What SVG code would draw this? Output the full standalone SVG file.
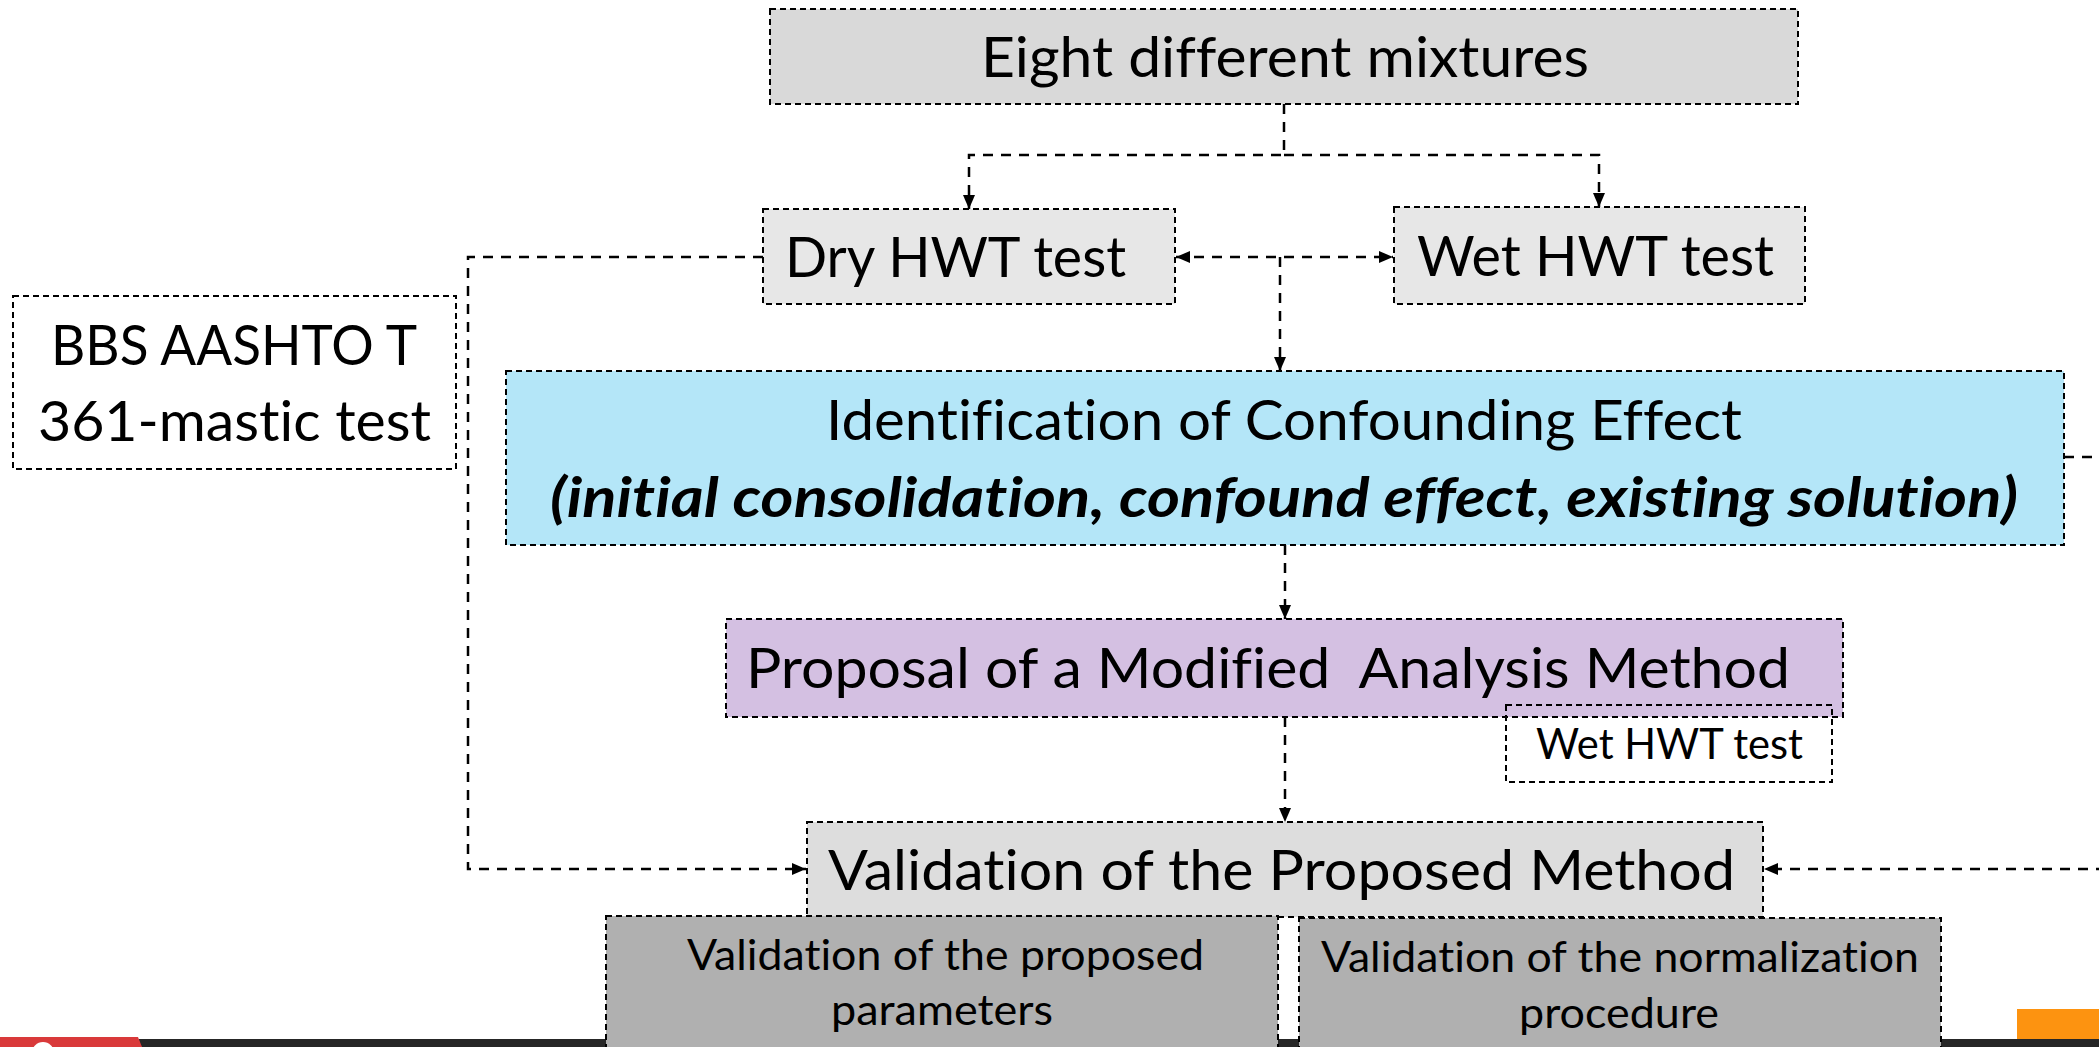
<svg xmlns="http://www.w3.org/2000/svg" width="2099" height="1047" viewBox="0 0 2099 1047">
<style>
.box{stroke:#000;stroke-width:2;stroke-dasharray:6 4}
.t{font-family:Lato,"Open Sans","Liberation Sans",sans-serif;fill:#000;font-variant-ligatures:none;font-feature-settings:"liga" 0,"clig" 0,"dlig" 0}
.big{font-size:56px}
.sm{font-size:42px}
.bi{font-weight:bold;font-style:italic}
.con{fill:none;stroke:#000;stroke-width:2.5;stroke-dasharray:10 8}
</style>
<defs>
<marker id="arr" markerUnits="userSpaceOnUse" markerWidth="16" markerHeight="14" refX="14" refY="6" orient="auto-start-reverse">
<path d="M0,0 L14,6 L0,12 z" fill="#000"/>
</marker>
</defs>
<rect x="0" y="0" width="2099" height="1047" fill="#fff"/>
<g id="footer">
<rect x="139" y="1039" width="1960" height="8" fill="#262626"/>
<polygon points="0,1037 138,1037 142,1047 0,1047" fill="#d9393a"/>
<circle cx="43" cy="1053" r="11" fill="#fff"/>
<rect x="2017" y="1009" width="82" height="30" fill="#fd9310"/>
</g>
<g id="eight">
<rect class="box" x="770" y="9" width="1028" height="95" fill="#d9d9d9"/>
<text class="t big" x="981" y="77" textLength="608" lengthAdjust="spacingAndGlyphs">Eight different mixtures</text>
</g>
<g id="dry">
<rect class="box" x="763" y="209" width="412" height="95" fill="#e7e7e7"/>
<text class="t big" x="785" y="277" textLength="341" lengthAdjust="spacingAndGlyphs">Dry HWT test</text>
</g>
<g id="wet">
<rect class="box" x="1394" y="207" width="411" height="97" fill="#e7e7e7"/>
<text class="t big" x="1417" y="276" textLength="357" lengthAdjust="spacingAndGlyphs">Wet HWT test</text>
</g>
<g id="bbs">
<rect class="box" x="13" y="296" width="443" height="173" fill="#fff"/>
<text class="t big" x="51" y="365" textLength="366" lengthAdjust="spacingAndGlyphs">BBS AASHTO T</text>
<text class="t big" x="38" y="441" textLength="393" lengthAdjust="spacingAndGlyphs">361-mastic test</text>
</g>
<g id="identification">
<rect class="box" x="506" y="371" width="1558" height="174" fill="#b4e6f8"/>
<text class="t big" x="826" y="440" textLength="916" lengthAdjust="spacingAndGlyphs">Identification of Confounding Effect</text>
<text class="t big bi" x="550" y="517" textLength="1468" lengthAdjust="spacingAndGlyphs">(initial consolidation, confound effect, existing solution)</text>
</g>
<g id="proposal">
<rect class="box" x="726" y="619" width="1117" height="98" fill="#d4c0e2"/>
<text class="t big" x="746" y="688" textLength="1044" lengthAdjust="spacingAndGlyphs" xml:space="preserve">Proposal of a Modified  Analysis Method</text>
</g>
<g id="wet-small">
<rect class="box" x="1506" y="705" width="326" height="77" fill="none"/>
<text class="t sm" x="1536" y="759" textLength="267" lengthAdjust="spacingAndGlyphs">Wet HWT test</text>
</g>
<g id="validation">
<rect class="box" x="807" y="822" width="956" height="95" fill="#dddddd"/>
<text class="t big" x="828" y="890" textLength="907" lengthAdjust="spacingAndGlyphs">Validation of the Proposed Method</text>
</g>
<g id="val-params">
<rect class="box" x="606" y="916" width="672" height="140" fill="#b0b0b0"/>
<text class="t sm" x="687" y="970" textLength="517" lengthAdjust="spacingAndGlyphs">Validation of the proposed</text>
<text class="t sm" x="831" y="1025" textLength="222" lengthAdjust="spacingAndGlyphs">parameters</text>
</g>
<g id="val-norm">
<rect class="box" x="1299" y="918" width="642" height="140" fill="#b0b0b0"/>
<text class="t sm" x="1321" y="972" textLength="598" lengthAdjust="spacingAndGlyphs">Validation of the normalization</text>
<text class="t sm" x="1519" y="1028" textLength="200" lengthAdjust="spacingAndGlyphs">procedure</text>
</g>
<g id="connectors">
<path class="con" d="M1284,104 V155 H969 V209" marker-end="url(#arr)"/>
<path class="con" d="M1284,155 H1599 V207" marker-end="url(#arr)"/>
<path class="con" d="M1176,257 H1393" marker-start="url(#arr)" marker-end="url(#arr)"/>
<path class="con" d="M1280,257 V371" marker-end="url(#arr)"/>
<path class="con" d="M763,257 H468 V869 H806" marker-end="url(#arr)"/>
<path class="con" d="M1285,545 V619" marker-end="url(#arr)"/>
<path class="con" d="M1285,717 V822" marker-end="url(#arr)"/>
<path class="con" d="M2064,457 H2140 V869 H1764" marker-end="url(#arr)"/>
</g>
</svg>
